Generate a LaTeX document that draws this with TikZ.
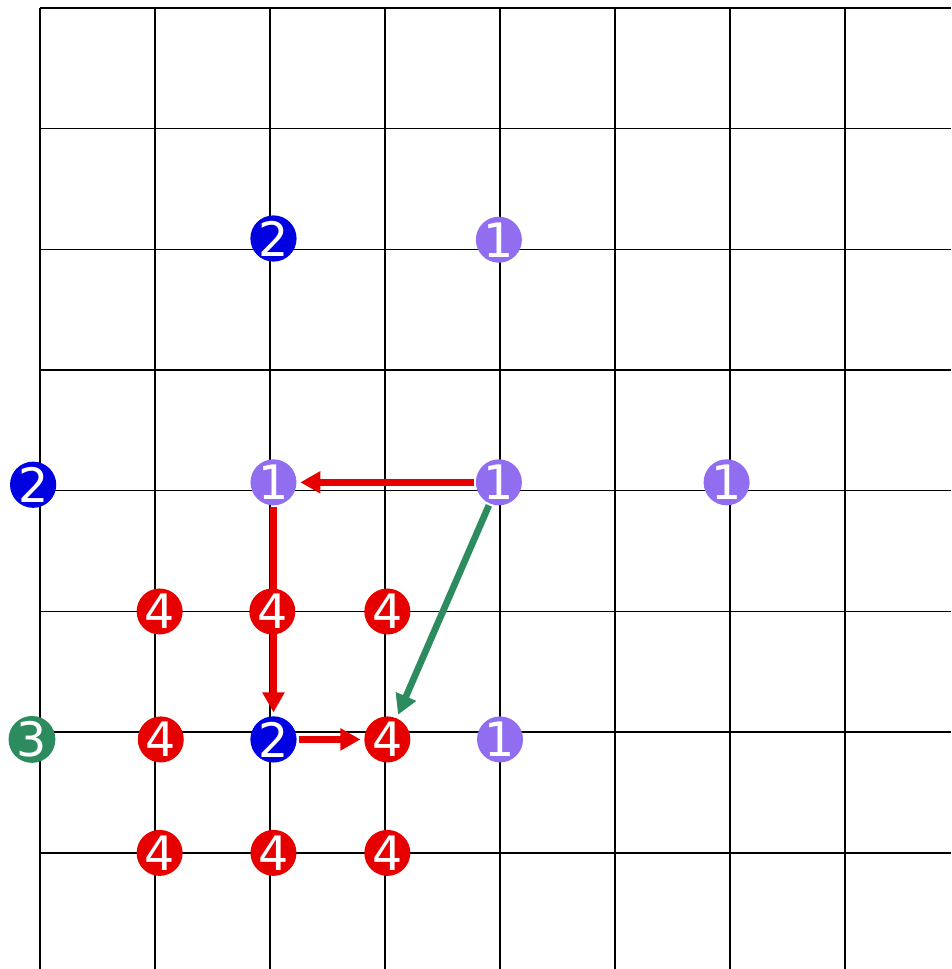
\documentclass[tikz,border=0pt]{standalone}
\usepackage{fontspec}
\setmainfont{DejaVu Sans}
\usetikzlibrary{arrows.meta,backgrounds}
\definecolor{ptblue}{RGB}{0,0,225}
\definecolor{ptpurple}{RGB}{145,110,240}
\definecolor{ptred}{RGB}{230,0,0}
\definecolor{ptgreen}{RGB}{45,140,95}
\tikzset{
  pt/.style={circle,fill=#1,text=white,minimum size=0.92cm,inner sep=0pt,
    font=\fontsize{27}{27}\selectfont},
  mv/.style={draw=#1,line width=3.8pt,
    -{Triangle[length=0.4cm,width=0.42cm]},shorten >=2pt,shorten <=1pt}
}
\begin{document}
\begin{tikzpicture}[x=2.3cm,y=2.414cm]
\useasboundingbox (-0.348,0.066) rectangle (7.922,-7.962);
\node[pt=ptblue] (b22) at (2.03,-1.91) {2};
\node[pt=ptpurple] (p42) at (3.99,-1.92) {1};
\node[pt=ptblue] (b04) at (-0.06,-3.95) {2};
\node[pt=ptpurple] (p24) at (2.03,-3.93) {1};
\node[pt=ptpurple] (p44) at (3.99,-3.93) {1};
\node[pt=ptpurple] (p64) at (5.97,-3.93) {1};
\node[pt=ptred] (r15) at (1.04,-5) {4};
\node[pt=ptred] (r25) at (2.02,-5) {4};
\node[pt=ptred] (r35) at (3.02,-5) {4};
\node[pt=ptgreen] (g06) at (-0.07,-6.06) {3};
\node[pt=ptred] (r16) at (1.05,-6.06) {4};
\node[pt=ptblue] (b26) at (2.03,-6.06) {2};
\node[pt=ptred] (r36) at (3.02,-6.06) {4};
\node[pt=ptpurple] (p46) at (4,-6.06) {1};
\node[pt=ptred] (r17) at (1.04,-7) {4};
\node[pt=ptred] (r27) at (2.03,-7) {4};
\node[pt=ptred] (r37) at (3.02,-7) {4};
\begin{scope}[on background layer]
\foreach \i in {0,...,7} {
  \draw[line width=0.8pt] (\i,0) -- (\i,-7.962);
  \draw[line width=0.8pt] (0,-\i) -- (7.922,-\i);
}
\draw[mv=ptred] (p44) -- (p24);
\draw[mv=ptred] (p24) -- (b26);
\draw[mv=ptred] (b26) -- (r36);
\draw[mv=ptgreen] (p44) -- (r36);
\end{scope}
\end{tikzpicture}
\end{document}
